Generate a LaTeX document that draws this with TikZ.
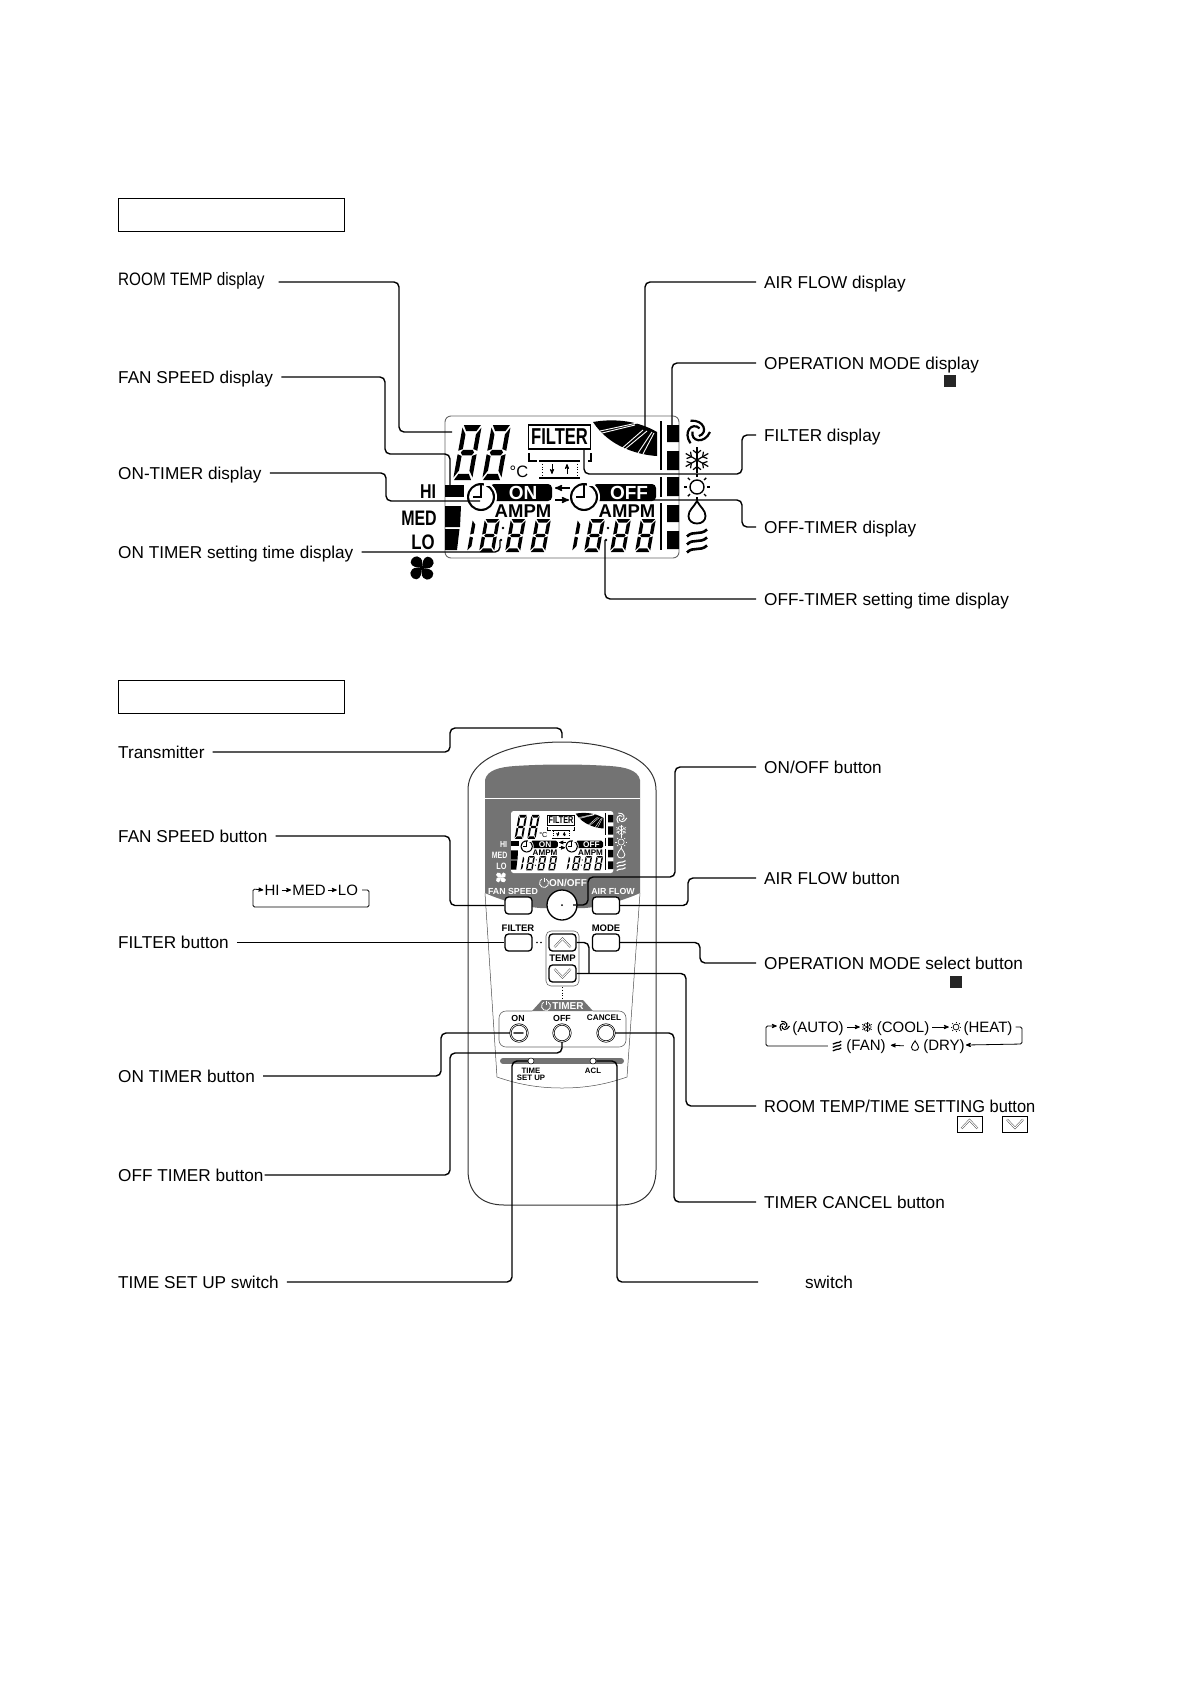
\documentclass[tikz,border=0pt]{standalone}
\usepackage{fontspec}
\setmainfont{Liberation Sans}
\usetikzlibrary{arrows}
\newcommand{\fsz}[1]{\fontsize{#1}{#1}\selectfont}
\def\linefac{1}
\definecolor{panelgray}{gray}{0.45}
\tikzset
{
  calllabel/.style = {anchor=west, inner sep=0pt, text height=12.2pt, text depth=0pt, font=\fsz{17.2}},
  leader/.style    = {draw=black, line width=1.4pt, rounded corners=5pt, shorten <=8pt},
  headbox/.style   = {draw=black, line width=0.7pt, minimum width=226pt, minimum height=33pt, inner sep=0pt},
  marksq/.style    = {fill=black!85, minimum size=12pt, inner sep=0pt},
  keybtn/.style    = {draw=black, fill=white, line width=1.3pt, rounded corners=3.5pt, minimum width=27pt, minimum height=17pt, inner sep=0pt},
  timerbtn/.style  = {circle, draw=black, fill=white, line width=0.7pt, double=white, double distance=0.7pt, minimum size=17pt, inner sep=0pt},
  keytext/.style   = {font=\bfseries\fsz{9.5}, inner sep=0pt},
  whitetext/.style = {font=\bfseries\fsz{8.8}, text=white, inner sep=0pt},
  legendtext/.style = {font=\fsz{15}, inner sep=1pt, text height=10.8pt, text depth=0pt},
  legendmark/.style = {minimum size=14pt, inner sep=0pt},
  legendicon/.style = {scale=0.42},
  legendline/.style = {line width=0.8pt, rounded corners=1.5pt, ->, >=stealth', shorten <=2pt},
  keyrect/.style   = {draw=black, line width=0.8pt, minimum width=25pt, minimum height=16pt, inner sep=0pt},
  swirlicon/.pic = {
    \foreach \a in {0,120,240}
      \draw[line width=\linefac*2.2pt] (\a:13) .. controls (\a+60:14.5) and (\a+125:11.5) .. (\a+185:4.5);
  },
  snowicon/.pic = {
    \foreach \a in {30,90,150,210,270,330} {
      \draw[line width=\linefac*1.2pt] (0,0) -- (\a:13);
      \draw[line width=\linefac*1.2pt] (\a+22:10.5) -- (\a:6.5) -- (\a-22:10.5);
    }
  },
  sunicon/.pic = {
    \draw[line width=\linefac*1.4pt] (0,0) circle (7);
    \foreach \a in {0,45,...,315}
      \draw[line width=\linefac*1.4pt] (\a:10) -- (\a:13);
  },
  dropicon/.pic = {
    \draw[line width=\linefac*1.8pt] (0,-12) .. controls (3,-6) and (8.5,-3) .. (8.5,3) .. controls (8.5,8) and (4.5,10.5) .. (0,10.5) .. controls (-4.5,10.5) and (-8.5,8) .. (-8.5,3) .. controls (-8.5,-3) and (-3,-6) .. cycle;
  },
  wavesicon/.pic = {
    \foreach \y in {-8,0,8}
      \draw[line width=\linefac*2.6pt] (-10,\y+3.5) .. controls (-4,\y-3) and (3,\y+3) .. (10,\y-3.5);
  },
  fanicon/.pic = {
    \foreach \a in {45,135,225,315}
      \fill[rotate=\a] (0,0) .. controls (-3,-4) and (-7,-8) .. (-4,-12) .. controls (-1,-15) and (6,-14) .. (6,-8) .. controls (6,-4) and (2,-2) .. (0,0) -- cycle;
  },
  chevron/.pic = {
    \draw[line width=0.5pt, draw=black!70, double=white, double distance=1pt] (-8,4.5) -- (0,-4) -- (8,4.5);
  },
  powericon/.pic = {
    \draw[white, line width=0.8pt] (-60:4.5) arc (-60:240:4.5);
    \draw[white, line width=0.8pt] (0,-5.5) -- (0,-1);
  }
}
\newcommand{\segsides}{
  \fill (0,-30.5) -- (4.5,-26.5) -- (4.5,-18) -- (0,-17) -- cycle;
  \fill (0,-15) -- (4.5,-14) -- (4.5,-5.5) -- (0,-1.5) -- cycle;
}
\newcommand{\segdigit}[4]{
  \begin{scope}[shift={(#1,#2)}, xslant=0.18, xscale=#3/20, yscale=#4/32]
    \segsides
    \begin{scope}[xshift=20pt, xscale=-1]
      \segsides
    \end{scope}
    \fill (1,-32) -- (19,-32) -- (15.5,-28.5) -- (4.5,-28.5) -- cycle;
    \fill (1,0) -- (19,0) -- (15.5,-3.5) -- (4.5,-3.5) -- cycle;
    \fill (3,-16) -- (5,-17.6) -- (15,-17.6) -- (17,-16) -- (15,-14.4) -- (5,-14.4) -- cycle;
  \end{scope}
}
\newcommand{\segone}[4]{
  \begin{scope}[shift={(#1,#2)}, xslant=0.18, xscale=#3/20, yscale=#4/32]
    \segsides
  \end{scope}
}
\newcommand{\lcdclock}[1]{
  \fill[white] (#1,81) circle (16);
  \fill[even odd rule] (#1,81) circle (14) (#1,81) circle (12);
  \fill[white] (#1+3,65) rectangle (#1+9,70);
  \fill (#1-0.8,68) rectangle (#1+0.8,82);
  \fill (#1-8,80.4) rectangle (#1+0.8,82);
}
\newcommand{\lcdtime}[1]{
  \segone{#1}{136}{15}{33}
  \segdigit{#1+12}{136}{15}{33}
  \segdigit{#1+38}{136}{15}{33}
  \segdigit{#1+63}{136}{15}{33}
  \fill (#1+36,112) circle (1.4) (#1+34,124) circle (1.4);
}
\newcommand{\lcdpanel}[2]{
  \path[#2, rounded corners=\linefac*6pt] (0,0) rectangle (234,142);
  \segdigit{8}{64}{19}{55}
  \segdigit{37}{64}{19}{55}
  \node[inner sep=0pt, font=\fsz{16.5}] (degc) at (74,56) {°C};
  \node[draw=black, line width=\linefac*1.1pt, fill=white, inner sep=0pt, minimum width=62pt, minimum height=24pt] (filterbox) at (114.5,21) {\fsz{23}\bfseries\scalebox{.72}[1]{FILTER}};
  \draw[line width=\linefac*1.6pt] (84,37) -- (84,45) -- (92,45);
  \draw[line width=\linefac*1.6pt] (146,37) -- (146,45) -- (143,45);
  \draw[line width=\linefac*1.8pt] (94,45) -- (135,45) (94,62) -- (135,62);
  \draw[line width=\linefac*0.8pt, dotted] (97,45) -- (97,62) (132,45) -- (132,62);
  \draw[line width=\linefac*0.8pt, ->, >=stealth'] (107,48) -- (107,58);
  \draw[line width=\linefac*0.8pt, ->, >=stealth'] (122,58) -- (122,48);
  \fill (148,6) .. controls (165,3) and (190,3) .. (212,16) -- (212,40) .. controls (195,39) and (165,32) .. (148,6) -- cycle;
  \draw[white, line width=\linefac*0.9pt] (153,18) -- (190,9) (155,15) -- (192,7) (175,34) -- (198,14) (179,34) -- (202,15) (193,37) -- (207,16) (198,38) -- (209,17);
  \draw[line width=\linefac*1.3pt] (216,5) -- (216,54) (216,61) -- (216,81) (216,87) -- (216,134);
  \fill (222,9) rectangle (234,26) (222,35) rectangle (234,54) (222,61) rectangle (234,80) (222,89) rectangle (234,106) (222,115) rectangle (234,133);
  \begin{scope}[color=#1]
    \pic at (252,16) {swirlicon};
    \pic at (252,44) {snowicon};
    \pic at (252,71) {sunicon};
    \pic at (252,97) {dropicon};
    \pic at (252,125) {wavesicon};
    \pic at (-23,152) {fanicon};
    \node[inner sep=0pt, text=#1, font=\bfseries\fsz{20}] (hitext) at (-17,76) {\scalebox{.8}[1]{HI}};
    \node[inner sep=0pt, text=#1, font=\bfseries\fsz{21}] (medtext) at (-26,102) {\scalebox{.76}[1]{MED}};
    \node[inner sep=0pt, text=#1, font=\bfseries\fsz{21}] (lotext) at (-22,126) {\scalebox{.8}[1]{LO}};
  \end{scope}
  \fill (0,69) rectangle (19,81);
  \fill (0,90) -- (16,90) -- (15,111) -- (0,111) -- cycle;
  \fill (0,113) -- (14.5,113) -- (12,134) -- (0,134) -- cycle;
  \fill[rounded corners=\linefac*4pt] (45,68) rectangle (107,85);
  \fill[rounded corners=\linefac*4pt] (148,68) rectangle (211,85);
  \lcdclock{36}
  \lcdclock{139}
  \node[inner sep=0pt, text=white, font=\bfseries\fsz{19}] (ontext) at (78,76.5) {ON};
  \node[inner sep=0pt, text=white, font=\bfseries\fsz{19}] (offtext) at (184,76.5) {OFF};
  \draw[line width=\linefac*1.5pt, ->, >=stealth'] (125,72) -- (110,72);
  \draw[line width=\linefac*1.5pt, ->, >=stealth'] (110,84) -- (124,84);
  \node[inner sep=0pt, font=\bfseries\fsz{18.5}] (ampmon) at (78,95) {AMPM};
  \node[inner sep=0pt, font=\bfseries\fsz{18.5}] (ampmoff) at (182,95) {AMPM};
  \lcdtime{22}
  \lcdtime{127}
}
\begin{document}
\begin{tikzpicture}[x=1pt,y=-1pt]
  \useasboundingbox (0,0) rectangle (1191,1684);
  \node[headbox] (lcdhead) at (231,215) {};
  \node[headbox] (remotehead) at (231,697) {};

  % display part
  \begin{scope}[shift={(445,416)}, name prefix=big-, transform shape]
    \lcdpanel{black}{draw=black!60, line width=0.9pt}
  \end{scope}
  \node[calllabel] (roomtemplabel) at (118,282) {\raisebox{2.5pt}{\fsz{18}\scalebox{.85}[1]{ROOM TEMP display}}};
  \node[calllabel] (fanlabel) at (118,377) {FAN SPEED display};
  \node[calllabel] (ontimerlabel) at (118,473) {ON-TIMER display};
  \node[calllabel] (onsetlabel) at (118,552) {ON TIMER setting time display};
  \node[calllabel] (airlabel) at (764,282) {AIR FLOW display};
  \node[calllabel] (opmodelabel) at (764,363) {OPERATION MODE display};
  \node[marksq] (opmodemark) at (950,381) {};
  \node[calllabel] (filterlabel) at (764,435) {FILTER display};
  \node[calllabel] (offtimerlabel) at (764,527) {OFF-TIMER display};
  \node[calllabel] (offsetlabel) at (764,599) {OFF-TIMER setting time display};
  \coordinate (roomtempend) at (452,432);
  \coordinate (fanend) at (450,487);
  \coordinate (ontimerend) at (480,501);
  \coordinate (onsetend) at (500,540);
  \coordinate (airend) at (645,428);
  \coordinate (opmodeend) at (672,425);
  \coordinate (filterend) at (584,450);
  \coordinate (offtimerend) at (650,500);
  \coordinate (offsetend) at (605,540);
  \draw[leader, shorten <=14pt] (roomtemplabel.east) -| (399,432) -- (roomtempend);
  \draw[leader] (fanlabel.east) -| (385,454) -| (fanend);
  \draw[leader] (ontimerlabel.east) -| (386,501) -- (ontimerend);
  \draw[leader] (onsetlabel.east) -| (onsetend);
  \draw[leader] (airlabel.west) -| (airend);
  \draw[leader] (opmodelabel.west) -| (opmodeend);
  \draw[leader] (filterlabel.west) -| (742,474) -| (filterend);
  \draw[leader] (offtimerlabel.west) -| (742,500) -- (offtimerend);
  \draw[leader] (offsetlabel.west) -| (offsetend);

  % remote control
  \draw[line width=1pt, draw=black!80] (468,1170) -- (468,790) .. controls (468,755) and (520,742) .. (562,742) .. controls (604,742) and (656,755) .. (656,790) -- (656,1170) .. controls (656,1195) and (640,1205) .. (620,1205) -- (504,1205) .. controls (484,1205) and (468,1195) .. (468,1170) -- cycle;
  \draw[line width=0.5pt, draw=black!70] (485,893) -- (497,1077) .. controls (520,1085) and (540,1088) .. (562,1088) .. controls (584,1088) and (604,1085) .. (627,1077) -- (640,893);
  \fill[panelgray] (485,780) .. controls (487,770) and (500,767) .. (515,766) .. controls (545,764) and (580,764) .. (610,766) .. controls (625,767) and (638,770) .. (640,780) -- (640,893) .. controls (625,900) and (600,907) .. (585,908) -- (540,908) .. controls (525,907) and (500,900) .. (485,893) -- cycle;
  \draw[white, line width=0.6pt] (485,798) -- (640,798);
  \begin{scope}[shift={(511,811)}, scale=0.437, transform shape, name prefix=mini-]
    \def\linefac{0.437}
    \lcdpanel{white}{fill=white}
  \end{scope}
  \node[whitetext] (fanspeedtext) at (513,891) {FAN SPEED};
  \node[whitetext] (airflowtext) at (613,891) {AIR FLOW};
  \node[whitetext, font=\bfseries\fsz{10}] (onofftext) at (568,883) {ON/OFF};
  \pic at (544,883) {powericon};
  \node[keybtn] (fanspeedbtn) at (518.5,905.5) {};
  \node[keybtn] (airflowbtn) at (606,905.5) {};
  \node[circle, draw=black, fill=white, line width=1.3pt, minimum size=30pt, inner sep=0pt] (onoffbtn) at (562,905) {};
  \fill (562,905) circle (1);
  \node[keytext] (filtertext) at (518,928) {FILTER};
  \node[keytext] (modetext) at (606,928) {MODE};
  \node[keybtn] (filterbtn) at (518.5,942.5) {};
  \node[keybtn] (modebtn) at (606,942.5) {};
  \fill (537,942.5) circle (0.9) (541,942.5) circle (0.9);
  \draw[draw=black!60, line width=0.6pt, rounded corners=5pt] (546,931) rectangle (579,986);
  \node[keytext] (temptext) at (562.5,958) {TEMP};
  \node[keybtn] (upbtn) at (562.5,942.5) {};
  \node[keybtn] (downbtn) at (562.5,973.5) {};
  \pic at (562.5,942.5) {chevron};
  \pic[yscale=-1] at (562.5,973.5) {chevron};
  \draw[line width=0.8pt, dotted] (562,987) -- (562,999);
  \fill[panelgray] (532,1011) -- (542,1000) -- (583,1000) -- (593,1011) -- cycle;
  \draw[draw=black!60, line width=0.6pt, rounded corners=7pt] (532,1011) -- (499,1011) -- (499,1047) -- (626,1047) -- (626,1011) -- (593,1011);
  \pic at (546,1006) {powericon};
  \node[whitetext, font=\bfseries\fsz{10}] (timertext) at (568,1006) {TIMER};
  \node[keytext, font=\bfseries\fsz{8.8}] (ontimertext) at (518,1018) {ON};
  \node[keytext, font=\bfseries\fsz{8.8}] (offtimertext) at (562,1018) {OFF};
  \node[keytext, font=\bfseries\fsz{8.2}] (canceltext) at (604,1018) {CANCEL};
  \node[timerbtn] (onbtn) at (519,1033) {};
  \node[timerbtn] (offbtn) at (562,1033) {};
  \node[timerbtn] (cancelbtn) at (606,1033) {};
  \draw[draw=black!70, line width=1.6pt, line cap=round] (514,1033) -- (523,1033);
  \draw[draw=panelgray, line width=6pt, line cap=round] (503,1061) -- (621,1061);
  \node[circle, draw=black, fill=white, line width=0.5pt, minimum size=6pt, inner sep=0pt] (setupsw) at (531,1061) {};
  \node[circle, draw=black, fill=white, line width=0.5pt, minimum size=6pt, inner sep=0pt] (aclsw) at (593,1061) {};
  \node[keytext, font=\bfseries\fsz{7.8}, align=center] (setuptext) at (531,1074.5) {TIME\\[-0.5pt]SET UP};
  \node[keytext, font=\bfseries\fsz{7.8}] (acltext) at (593,1071) {ACL};

  % left labels
  \node[calllabel] (txlabel) at (118,752) {Transmitter};
  \node[calllabel] (fanbtnlabel) at (118,836) {FAN SPEED button};
  \node[calllabel] (filterbtnlabel) at (118,942.5) {FILTER button};
  \node[calllabel] (onbtnlabel) at (118,1076) {ON TIMER button};
  \node[calllabel] (offbtnlabel) at (118,1175) {OFF TIMER button};
  \node[calllabel] (setuplabel) at (118,1282) {TIME SET UP switch};
  \coordinate (txend) at (562,738);
  \draw[leader] (txlabel.east) -| (450,728) -| (txend);
  \draw[leader] (fanbtnlabel.east) -| (450,905.5) -- (fanspeedbtn.west);
  \draw[leader] (filterbtnlabel.east) -- (filterbtn.west);
  \draw[leader] (onbtnlabel.east) -| (441,1033) -- (onbtn.west);
  \draw[leader, shorten <=1pt] (offbtnlabel.east) -| (450,1053) -| (offbtn.south);
  \draw[leader] (setuplabel.east) -| (512,1061) -- (setupsw.west);

  % right labels
  \node[calllabel] (onofflabel) at (764,767) {ON/OFF button};
  \node[calllabel] (airbtnlabel) at (764,878) {AIR FLOW button};
  \node[calllabel] (modelabel) at (764,963) {OPERATION MODE select button};
  \node[marksq] (modemark) at (956,982) {};
  \node[calllabel] (roomsetlabel) at (764,1106) {\scalebox{.955}[1]{ROOM TEMP/TIME SETTING button}};
  \node[calllabel] (cancellabel) at (764,1202) {TIMER CANCEL button};
  \node[calllabel] (acllabel) at (805,1282) {switch};
  \coordinate (onoffend) at (573,905);
  \coordinate (aclstart) at (766,1282);
  \draw[leader] (onofflabel.west) -| (675,877) -| (588,905) -- (onoffend);
  \draw[leader] (airbtnlabel.west) -| (688,905.5) -- (airflowbtn.east);
  \draw[leader] (modelabel.west) -| (700,942.5) -- (modebtn.east);
  \draw[leader] (roomsetlabel.west) -| (686,973.5) -- (downbtn.east);
  \draw[leader, shorten <=0pt] (589,973.5) |- (upbtn.east);
  \draw[leader] (cancellabel.west) -| (674,1033) -- (cancelbtn.east);
  \draw[leader] (aclstart) -| (617,1061) -- (aclsw.east);
  \node[keyrect] (upkey) at (969.5,1124) {};
  \node[keyrect] (downkey) at (1015,1124) {};
  \pic at (969.5,1124) {chevron};
  \pic[yscale=-1] at (1015,1124) {chevron};

  % fan speed order
  \node[legendtext] (hilegend) at (272,890) {HI};
  \node[legendtext] (medlegend) at (309,890) {MED};
  \node[legendtext] (lolegend) at (348,890) {LO};
  \draw[legendline, shorten <=1pt] (hilegend.east) -- (medlegend.west);
  \draw[legendline, shorten <=1pt] (medlegend.east) -- (lolegend.west);
  \draw[legendline, shorten <=3pt] (lolegend.east) -| (369,907) -| (253,889) -- (hilegend.west);

  % operation mode order
  \node[legendmark] (swirlmark) at (784,1026) {};
  \node[legendmark] (snowmark) at (867,1027) {};
  \node[legendmark] (sunmark) at (956,1027) {};
  \node[legendmark] (dropmark) at (915,1046) {};
  \node[legendmark] (wavesmark) at (837,1046) {};
  \begin{scope}
    \def\linefac{0.5}
    \pic[legendicon] at (swirlmark) {swirlicon};
    \pic[legendicon] at (snowmark) {snowicon};
    \pic[legendicon] at (sunmark) {sunicon};
    \pic[legendicon] at (dropmark) {dropicon};
    \pic[legendicon] at (wavesmark) {wavesicon};
  \end{scope}
  \node[legendtext] (autotext) at (818,1027) {(AUTO)};
  \node[legendtext] (cooltext) at (903,1027) {(COOL)};
  \node[legendtext] (heattext) at (988,1027) {(HEAT)};
  \node[legendtext] (drytext) at (944,1045) {(DRY)};
  \node[legendtext] (fantext) at (866,1045) {(FAN)};
  \draw[legendline] (autotext.east) -- (snowmark.west);
  \draw[legendline] (cooltext.east) -- (sunmark.west);
  \draw[legendline, shorten <=4pt, shorten >=4pt] (dropmark.west) -- (fantext.east);
  \draw[legendline] (heattext.east) -| (1022,1044) -- (drytext.east);
  \draw[legendline] (wavesmark.west) -| (766,1026) -- (swirlmark.west);
\end{tikzpicture}
\end{document}
